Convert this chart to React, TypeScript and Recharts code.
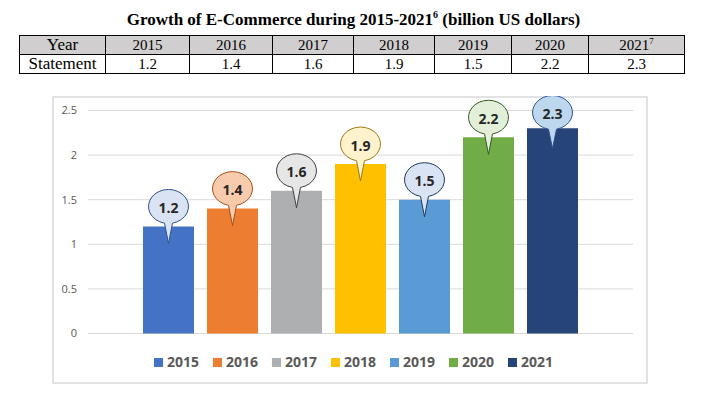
import React from 'react';
import { BarChart, Bar, XAxis, YAxis, CartesianGrid, Legend, LabelList } from 'recharts';

const years = ['2015', '2016', '2017', '2018', '2019', '2020', '2021'];
const values = [1.2, 1.4, 1.6, 1.9, 1.5, 2.2, 2.3];
const tableValues = ['1.2', '1.4', '1.6', '1.9', '1.5', '2.2', '2.3'];
const barColors = ['#4472C4', '#ED7D31', '#AEAFB0', '#FFC000', '#5B9BD5', '#70AD47', '#264478'];
const bubbleFills = ['#DAE3F3', '#F8CBAD', '#E6E6E6', '#FFF2CC', '#DAE3F3', '#E2F0D9', '#BDD7EE'];
const bubbleStrokes = ['#2F528F', '#A5521B', '#404040', '#9C7A10', '#1F3864', '#385723', '#2F5597'];
const yTicks = [0, 0.5, 1, 1.5, 2, 2.5];
const titleText = 'Growth of E-Commerce during 2015-2021';
const titleNote = '6';
const titleTail = ' (billion US dollars)';
const lastYearNote = '7';

const row: Record<string, any> = { name: 'E-Commerce' };
years.forEach((y, i) => {
  row['y' + y] = values[i];
});
const data = [row];

const makeBubble = (i: number) => (props: any) => {
  const x = Number(props.x);
  const y = Number(props.y);
  const width = Number(props.width);
  const cx = x + width / 2;
  const rx = 20;
  const ry = 17;
  const cy = Math.max(y - 20, 16.5);
  const tip = Math.min(y + 20, cy + 37);
  const w = 4;
  const y1 = cy + ry * Math.sqrt(1 - (w / rx) * (w / rx));
  const d = `M ${cx - w} ${y1} L ${cx} ${tip} L ${cx + w} ${y1} A ${rx} ${ry} 0 1 0 ${cx - w} ${y1} Z`;
  return (
    <g>
      <path d={d} fill={bubbleFills[i]} stroke={bubbleStrokes[i]} strokeWidth={1} />
      <text
        x={cx}
        y={cy + 1}
        textAnchor="middle"
        dominantBaseline="central"
        fontFamily="'Open Sans', sans-serif"
        fontWeight={700}
        fontSize={14}
        fill="#262626"
      >
        {props.value}
      </text>
    </g>
  );
};

const renderLegend = () => (
  <div
    style={{
      display: 'flex',
      justifyContent: 'center',
      paddingLeft: 7,
      fontFamily: "'Open Sans', sans-serif",
      fontWeight: 700,
      fontSize: 14,
      lineHeight: '18px',
      color: '#595959',
    }}
  >
    {years.map((y, i) => (
      <div key={y} style={{ display: 'flex', alignItems: 'center', marginRight: i < years.length - 1 ? 14 : 0 }}>
        <span style={{ display: 'inline-block', width: 9, height: 9, background: barColors[i], marginRight: 4 }} />
        <span>{y}</span>
      </div>
    ))}
  </div>
);

const colWidths = [86, 84, 83, 81, 81, 77, 77, 96];

export default function App() {
  const cell: React.CSSProperties = {
    border: '1px solid #000',
    padding: 0,
    textAlign: 'center',
    height: 18,
    lineHeight: '18px',
    fontFamily: "'Liberation Serif', serif",
    fontSize: 15,
  };
  const headCell: React.CSSProperties = { ...cell, background: '#D0CECE' };
  return (
    <div style={{ position: 'absolute', left: 0, top: 0, width: 718, height: 396, background: '#fff' }}>
      <div
        style={{
          position: 'absolute',
          left: 0,
          top: 10,
          width: 707,
          textAlign: 'center',
          fontFamily: "'Liberation Serif', serif",
          fontWeight: 700,
          fontSize: 17,
          lineHeight: '20px',
          color: '#000',
        }}
      >
        {titleText}
        <sup style={{ fontSize: 10, lineHeight: 0 }}>{titleNote}</sup>
        {titleTail}
      </div>
      <table
        style={{
          position: 'absolute',
          left: 19,
          top: 35,
          borderCollapse: 'collapse',
          tableLayout: 'fixed',
          width: colWidths.reduce((a, b) => a + b, 0),
        }}
      >
        <colgroup>
          {colWidths.map((w, i) => (
            <col key={i} style={{ width: w }} />
          ))}
        </colgroup>
        <tbody>
          <tr>
            <td style={{ ...headCell, fontSize: 17 }}>Year</td>
            {years.map((y, i) => (
              <td key={y} style={headCell}>
                {y}
                {i === years.length - 1 ? <sup style={{ fontSize: 9, lineHeight: 0 }}>{lastYearNote}</sup> : null}
              </td>
            ))}
          </tr>
          <tr>
            <td style={{ ...cell, fontSize: 17 }}>Statement</td>
            {tableValues.map((v, i) => (
              <td key={i} style={cell}>
                {v}
              </td>
            ))}
          </tr>
        </tbody>
      </table>
      <div
        style={{
          position: 'absolute',
          left: 52,
          top: 96,
          width: 596,
          height: 288,
          border: '2px solid #E2E2E2',
          boxSizing: 'border-box',
        }}
      />
      <div style={{ position: 'absolute', left: 52, top: 96 }}>
        <BarChart
          width={596}
          height={288}
          data={data}
          margin={{ top: 14.5, right: 15, bottom: 50.5, left: 0 }}
          barGap={13}
          barSize={51}
        >
          <CartesianGrid horizontal vertical={false} stroke="#D9D9D9" strokeWidth={1} />
          <XAxis dataKey="name" hide />
          <YAxis
            width={36}
            domain={[0, 2.5]}
            ticks={yTicks}
            axisLine={false}
            tickLine={false}
            tickMargin={5}
            tick={{ fill: '#595959', fontSize: 11, fontFamily: "'Open Sans', sans-serif" }}
          />
          <Legend
            verticalAlign="middle"
            layout="horizontal"
            align="center"
            content={renderLegend}
            wrapperStyle={{ top: 257, left: 0, width: 596 }}
          />
          {years.map((y, i) => (
            <Bar key={y} dataKey={'y' + y} name={y} fill={barColors[i]} isAnimationActive={false}>
              <LabelList dataKey={'y' + y} content={makeBubble(i)} />
            </Bar>
          ))}
        </BarChart>
      </div>
    </div>
  );
}
